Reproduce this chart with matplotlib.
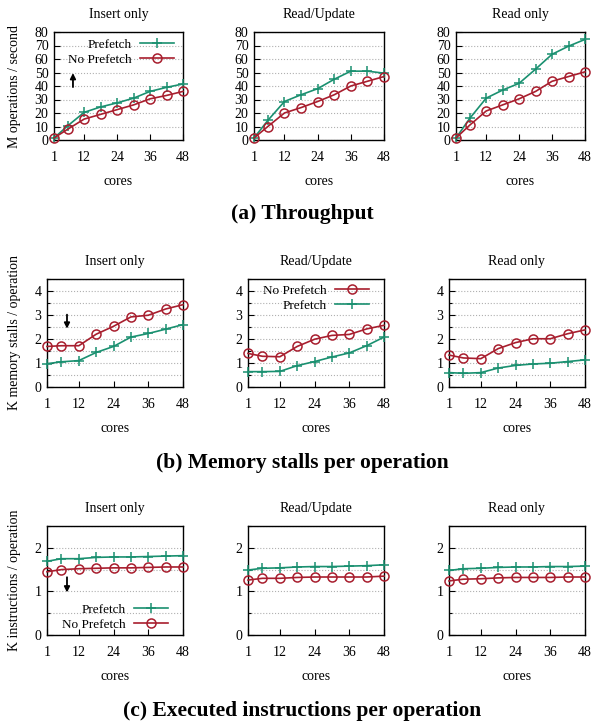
import matplotlib
matplotlib.use("Agg")
import matplotlib.pyplot as plt
from matplotlib.ticker import MultipleLocator

plt.rcParams['font.family'] = ['Liberation Serif', 'DejaVu Serif']

cores = [1, 6, 12, 18, 24, 30, 36, 42, 48]
xticks = [1, 12, 24, 36, 48]
workloads = ["Insert only", "Read/Update", "Read only"]

# (a) Throughput, M operations / second
tput_prefetch = {
    "Insert only": [1.5, 10.5, 20.5, 24.5, 27.5, 31, 36, 39, 41.5],
    "Read/Update": [1.5, 14.5, 28.5, 33.5, 38, 45, 51, 51, 49.5],
    "Read only":   [1.5, 16, 31, 37, 42, 52.5, 63.5, 69.5, 74.5],
}
tput_noprefetch = {
    "Insert only": [1.5, 8, 15.5, 19, 22.5, 26, 30.5, 33, 36],
    "Read/Update": [1.5, 10, 20, 24, 28.5, 33.5, 40, 43.5, 47],
    "Read only":   [1.5, 11, 21.5, 26, 30.5, 36, 43.5, 47, 50.5],
}
# (b) K memory stalls / operation
stall_prefetch = {
    "Insert only": [0.97, 1.05, 1.1, 1.44, 1.69, 2.08, 2.23, 2.41, 2.6],
    "Read/Update": [0.64, 0.64, 0.65, 0.89, 1.06, 1.25, 1.42, 1.72, 2.08],
    "Read only":   [0.6, 0.57, 0.6, 0.79, 0.9, 0.96, 0.99, 1.06, 1.13],
}
stall_noprefetch = {
    "Insert only": [1.69, 1.72, 1.72, 2.2, 2.53, 2.92, 2.99, 3.25, 3.43],
    "Read/Update": [1.4, 1.28, 1.26, 1.69, 1.99, 2.15, 2.19, 2.42, 2.57],
    "Read only":   [1.33, 1.21, 1.18, 1.6, 1.85, 2.01, 2.01, 2.22, 2.38],
}
# (c) K instructions / operation
instr_prefetch = {
    "Insert only": [1.69, 1.75, 1.75, 1.78, 1.79, 1.79, 1.8, 1.81, 1.82],
    "Read/Update": [1.49, 1.53, 1.54, 1.56, 1.57, 1.57, 1.58, 1.59, 1.61],
    "Read only":   [1.48, 1.52, 1.53, 1.55, 1.56, 1.56, 1.57, 1.57, 1.58],
}
instr_noprefetch = {
    "Insert only": [1.45, 1.5, 1.52, 1.53, 1.54, 1.54, 1.55, 1.56, 1.56],
    "Read/Update": [1.26, 1.3, 1.3, 1.32, 1.33, 1.33, 1.33, 1.33, 1.35],
    "Read only":   [1.24, 1.28, 1.29, 1.31, 1.32, 1.32, 1.32, 1.33, 1.33],
}

GREEN = '#1a9070'
RED = '#a81e2e'
FS = 9.5
TFS = 10

W, H = 594, 725
fig = plt.figure(figsize=(W / 100, H / 100), dpi=100)

rows = [
    dict(top=32, bot=140, lefts=[(54, 183), (254, 384), (456, 585)],
         pre=tput_prefetch, nop=tput_noprefetch, ylim=80, major=10, minor=None,
         ylabel="M operations / second", caption="(a) Throughput", cap_y=214),
    dict(top=279, bot=387, lefts=[(47, 183), (248, 384), (449, 585)],
         pre=stall_prefetch, nop=stall_noprefetch, ylim=4.5, major=1, minor=0.5,
         ylabel="K memory stalls / operation",
         caption="(b) Memory stalls per operation", cap_y=463),
    dict(top=526, bot=635, lefts=[(47, 183), (248, 384), (449, 585)],
         pre=instr_prefetch, nop=instr_noprefetch, ylim=2.5, major=1, minor=0.5,
         ylabel="K instructions / operation",
         caption="(c) Executed instructions per operation", cap_y=711),
]

leg_kw = dict(frameon=False, markerfirst=False, fontsize=FS, borderpad=0,
              borderaxespad=0, handlelength=2.6, handletextpad=0.6,
              labelspacing=0.2)
arrow_kw = dict(arrowstyle='-|>', color='black', lw=1.3, mutation_scale=8,
                shrinkA=0, shrinkB=0)

for ri, row in enumerate(rows):
    for ci, wl in enumerate(workloads):
        l, r = row['lefts'][ci]
        ax = fig.add_axes([l / W, (H - row['bot']) / H, (r - l) / W,
                           (row['bot'] - row['top']) / H])
        lp, = ax.plot(cores, row['pre'][wl], color=GREEN, lw=1.2, marker='+',
                      ms=7, mew=1.1, clip_on=False, zorder=3, label="Prefetch")
        ln, = ax.plot(cores, row['nop'][wl], color=RED, lw=1.2, marker='o',
                      ms=6.5, mew=1.1, mfc='none', clip_on=False, zorder=3,
                      label="No Prefetch")
        ax.set_xlim(1, 48)
        ax.set_ylim(0, row['ylim'])
        ax.set_xticks(xticks)
        ax.yaxis.set_major_locator(MultipleLocator(row['major']))
        if row['minor']:
            ax.yaxis.set_minor_locator(MultipleLocator(row['minor']))
            ax.grid(True, axis='y', which='both', color='#b0b0b0', ls=':', lw=0.8)
        else:
            ax.grid(True, axis='y', which='major', color='#b0b0b0', ls=':', lw=0.8)
        ax.set_axisbelow(True)
        ax.tick_params(direction='in', which='major', length=4, width=0.8,
                       labelsize=TFS, pad=4)
        ax.tick_params(axis='x', pad=8)
        ax.tick_params(direction='in', which='minor', length=2.5, width=0.8)
        for s in ax.spines.values():
            s.set_linewidth(1.0)
            s.set_color('black')
        ax.set_title(wl, fontsize=TFS, pad=10)
        ax.set_xlabel("cores", fontsize=TFS, labelpad=8)

        if ci == 0:
            ymid = (row['top'] + row['bot']) / 2
            fig.text(15 / W, 1 - ymid / H, row['ylabel'], rotation=90,
                     ha='center', va='center', fontsize=TFS)

        if ri == 0 and ci == 0:
            ax.legend(handles=[lp, ln], loc='upper right',
                      bbox_to_anchor=(0.93, 0.94), **leg_kw)
            ax.annotate('', xy=(0.147, 0.62), xytext=(0.147, 0.49),
                        xycoords='axes fraction', arrowprops=arrow_kw)
        if ri == 1 and ci == 0:
            ax.annotate('', xy=(0.147, 0.54), xytext=(0.147, 0.67),
                        xycoords='axes fraction', arrowprops=arrow_kw)
        if ri == 1 and ci == 1:
            ax.legend(handles=[ln, lp], loc='upper right',
                      bbox_to_anchor=(0.89, 0.95), **leg_kw)
        if ri == 2 and ci == 0:
            ax.legend(handles=[lp, ln], loc='lower right',
                      bbox_to_anchor=(0.89, 0.04), **leg_kw)
            ax.annotate('', xy=(0.147, 0.39), xytext=(0.147, 0.53),
                        xycoords='axes fraction', arrowprops=arrow_kw)

    fig.text(302 / W, 1 - row['cap_y'] / H, row['caption'], ha='center',
             va='center', fontsize=15.5, fontweight='bold')

fig.savefig("out.png", dpi=100)
